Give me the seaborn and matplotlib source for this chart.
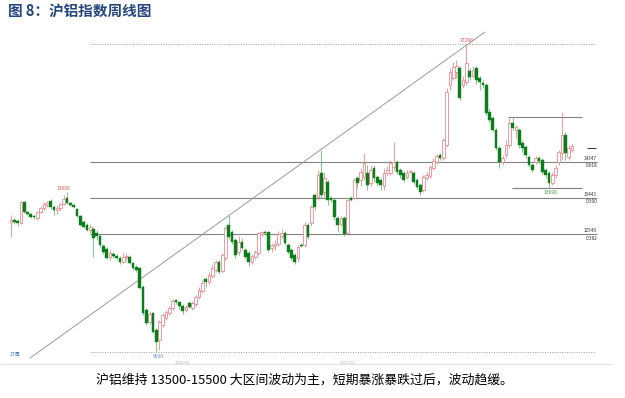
#沪铝指数周线图 - reproduccion del grafico
import pandas as pd
import matplotlib
matplotlib.use('Agg')
import matplotlib.pyplot as plt
import seaborn as sns

#datos semanales OHLC
opens = [12840, 12890, 12865, 12815, 13340, 13090, 13040, 12990, 12940, 13090,
         13190, 13265, 13365, 13215, 13140, 13190, 13290, 13440, 13315, 13265,
         13165, 12990, 12840, 12765, 12640, 12665, 12565, 12490, 12240, 12165,
         11965, 12040, 11990, 11940, 11840, 11965, 11965, 11815, 11715, 11690,
         11215, 10640, 10340, 10565, 10140, 9890, 10265, 10440, 10565, 10690,
         10890, 10840, 10740, 10640, 10815, 10690, 10790, 10965, 11115, 11415,
         11340, 11490, 11640, 11840, 11615, 11940, 12765, 12590, 12390, 12090,
         12340, 12140, 12065, 11840, 11965, 12065, 12540, 12590, 12590, 12190,
         12240, 12290, 12490, 12565, 12265, 12140, 12015, 11940, 12265, 12265,
         12765, 12815, 13515, 13465, 14065, 13590, 13840, 13440, 13390, 12940,
         12790, 12940, 12565, 13440, 13440, 13940, 13890, 13965, 14065, 13815,
         14190, 13965, 13890, 13740, 14065, 14065, 14215, 14340, 14140, 14065,
         13965, 14090, 14065, 13890, 13765, 13640, 13940, 13990, 14190, 14340,
         14515, 14440, 14765, 16265, 16440, 16590, 16690, 16265, 16340, 16615,
         16490, 16690, 16440, 16315, 16265, 15590, 15440, 15140, 14690, 14340,
         14515, 14765, 15315, 15140, 15140, 14815, 14715, 14465, 14265, 14340,
         14440, 14390, 14140, 14065, 13815, 14015, 14340, 14565, 15015, 14465,
         14640]
highs = [13015, 12940, 12915, 13365, 13365, 13115, 13065, 13015, 13115, 13240,
         13340, 13365, 13415, 13265, 13265, 13315, 13515, 13600, 13340, 13290,
         13190, 13015, 12890, 12815, 12790, 12690, 12640, 12540, 12290, 12215,
         12140, 12090, 12040, 11990, 12090, 12065, 12015, 11840, 11765, 11715,
         11265, 10690, 10615, 10590, 10190, 10390, 10565, 10640, 10740, 10915,
         10915, 10865, 10790, 10765, 10865, 10865, 11015, 11215, 11390, 11465,
         11590, 11765, 11890, 11890, 12065, 12740, 13015, 12640, 12440, 12490,
         12440, 12190, 12115, 12040, 12140, 12590, 12615, 12640, 12615, 12315,
         12390, 12615, 12665, 12615, 12315, 12190, 12065, 12265, 12315, 12840,
         12815, 13265, 13565, 14140, 14640, 14090, 13890, 13490, 13440, 12990,
         12990, 12990, 13440, 13490, 13940, 13990, 14190, 14565, 14265, 14265,
         14265, 14015, 13940, 14190, 14240, 14390, 14840, 14390, 14190, 14115,
         14140, 14140, 14115, 13940, 13815, 14015, 14090, 14265, 14440, 14540,
         14565, 14940, 16190, 16690, 16840, 16890, 16740, 16490, 17288, 16690,
         16740, 16740, 16490, 16390, 16315, 15690, 15490, 15190, 14740, 14515,
         14890, 15440, 15465, 15265, 15190, 14890, 14765, 14515, 14315, 14490,
         14490, 14440, 14190, 14115, 14090, 14265, 14640, 15590, 15090, 14765,
         14790]
lows = [12465, 12790, 12740, 12790, 13065, 13015, 12940, 12915, 12890, 13065,
        13140, 13215, 13165, 13015, 13040, 13140, 13265, 13290, 13240, 13190,
        12965, 12740, 12690, 12615, 12565, 11965, 12390, 12215, 12040, 11915,
        11890, 11940, 11890, 11790, 11815, 11890, 11790, 11640, 11590, 11165,
        10515, 10265, 10290, 10065, 9600, 9640, 10215, 10390, 10515, 10640,
        10790, 10665, 10540, 10590, 10690, 10640, 10740, 10915, 11065, 11215,
        11290, 11440, 11590, 11540, 11565, 11890, 12415, 12290, 11940, 12015,
        12140, 11915, 11740, 11790, 11915, 12015, 12490, 12515, 12090, 12090,
        12140, 12240, 12440, 12265, 12040, 11890, 11790, 11840, 12215, 12215,
        12415, 12740, 13140, 13390, 13440, 13465, 13265, 13340, 12890, 12590,
        12740, 12490, 12515, 13365, 13390, 13690, 13740, 13890, 13640, 13740,
        13840, 13740, 13640, 13640, 13990, 14015, 14140, 14040, 13940, 13840,
        13915, 14065, 13790, 13665, 13515, 13590, 13890, 13940, 14140, 14290,
        14390, 14390, 14715, 16140, 16390, 16440, 15890, 16190, 16265, 16390,
        16440, 16290, 16140, 16190, 15515, 15340, 15090, 14640, 14190, 14265,
        14440, 14690, 15140, 14940, 14690, 14590, 14440, 14215, 14090, 14290,
        14315, 14040, 13940, 13690, 13765, 13940, 14265, 14390, 14390, 14390,
        14590]
closes = [12890, 12840, 12815, 13340, 13090, 13040, 12965, 12965, 13090, 13190,
          13290, 13315, 13215, 13140, 13190, 13290, 13415, 13315, 13265, 13215,
          12990, 12765, 12715, 12640, 12715, 12440, 12490, 12265, 12090, 11940,
          12065, 11990, 11940, 11840, 11965, 11990, 11815, 11690, 11640, 11190,
          10565, 10315, 10540, 10090, 9840, 10340, 10515, 10590, 10690, 10865,
          10840, 10740, 10615, 10715, 10715, 10815, 10965, 11140, 11315, 11340,
          11515, 11690, 11840, 11590, 12015, 12690, 12465, 12340, 12015, 12340,
          12190, 11965, 11840, 11990, 12090, 12565, 12590, 12565, 12140, 12265,
          12290, 12540, 12565, 12315, 12090, 11940, 11840, 12215, 12240, 12765,
          12465, 13215, 13215, 14015, 13515, 13940, 13390, 13390, 12965, 12765,
          12940, 12540, 13390, 13390, 13890, 13815, 14090, 14315, 13765, 14140,
          13940, 13815, 13765, 14065, 14140, 14315, 14340, 14090, 14015, 13890,
          14065, 14115, 13840, 13715, 13590, 13965, 14015, 14215, 14365, 14490,
          14440, 14890, 16090, 16590, 16715, 16740, 15940, 16390, 16815, 16465,
          16640, 16390, 16340, 16265, 15565, 15390, 15140, 14690, 14340, 14440,
          14765, 15315, 15190, 15215, 14765, 14690, 14515, 14265, 14140, 14440,
          14365, 14090, 14015, 13815, 14015, 14190, 14590, 15015, 14565, 14690,
          14740]

#niveles de Fibonacci y marcas
fib_levels = [14347, 13443, 12540]
fib_ratios = ['0.618', '0.500', '0.382']
top_price = 17288
low_price = 9600
left_peak = 13600
right_low = 13690
resistance = 15465
box_support = 13690
short_mark = 14690
trend_x = [5.8, 143.6]
trend_y = [9440, 17590]
date_labels = ['2016/01', '2017/01']
date_pos = [52, 102]

titulo = '图 8：沪铝指数周线图'
comentario = '沪铝维持 13500-15500 大区间波动为主，短期暴涨暴跌过后，波动趋缓。'

df = pd.DataFrame({'open': opens, 'high': highs, 'low': lows, 'close': closes})
df['x'] = range(len(df))
df['sube'] = df['close'] >= df['open']

sns.set_theme(style='white')
plt.rcParams['font.family'] = ['Noto Sans CJK SC', 'DejaVu Sans']

fig = plt.figure(figsize=(6.25, 3.98), dpi=100)
ax = fig.add_axes([0, 0, 1, 1])
ax.set_xlim(-3.33, 186.06)
ax.set_ylim(8440, 18390)
ax.axis('off')

rojo = '#f0898f'
verde = '#0b7d1c'
verde_claro = '#6cbf6c'

#mechas y cuerpos
sub = df[df['sube']]
baj = df[~df['sube']]
ax.vlines(sub['x'], sub['low'], sub['high'], color=rojo, lw=0.6, zorder=2)
ax.vlines(baj['x'], baj['low'], baj['high'], color=verde_claro, lw=0.6, zorder=2)
ax.bar(sub['x'], sub['close'] - sub['open'], bottom=sub['open'], width=0.8,
       facecolor='white', edgecolor=rojo, linewidth=0.6, zorder=3)
ax.bar(baj['x'], baj['close'] - baj['open'], bottom=baj['open'], width=0.8,
       facecolor=verde, edgecolor=verde, linewidth=0.3, zorder=3)

#lineas horizontales
gris = '#808080'
for lvl in fib_levels:
    ax.hlines(lvl, 24, 177.6, color=gris, lw=0.8, zorder=1)
ax.hlines([top_price, low_price], 24, 177, color='#999999', lw=0.7, ls=(0, (1, 1.5)), zorder=1)
ax.hlines(9290, -3.3, 182, color='#e2e2e2', lw=0.8, zorder=1)
ax.hlines(resistance, 150.6, 173, color=gris, lw=0.8, zorder=1)
ax.hlines(box_support, 151.8, 173, color=gris, lw=0.8, zorder=1)
ax.hlines(short_mark, 174.5, 177.3, color='#444444', lw=0.8, zorder=1)
sns.lineplot(x=trend_x, y=trend_y, ax=ax, color='#999999', lw=0.7, zorder=1)

#etiquetas pequenas
ax.text(138.2, 17390, str(top_price), color='#e05050', fontsize=3.6, ha='center', va='center')
ax.text(16, 13665, str(left_peak), color='#e05050', fontsize=3.6, ha='center', va='center')
ax.text(44.5, 9465, str(low_price), color='#6a8ab0', fontsize=3.6, ha='center', va='center')
ax.text(163.5, 13590, str(right_low), color='#3a9a3a', fontsize=3.6, ha='center', va='center')
for lvl, r in zip(fib_levels, fib_ratios):
    ax.text(177.6, lvl + 75, str(lvl), color='#333333', fontsize=3.4, ha='right', va='center')
    ax.text(177.6, lvl - 100, r, color='#333333', fontsize=3.4, ha='right', va='center')
for lab, pos in zip(date_labels, date_pos):
    ax.text(pos, 9340, lab, color='#aaaaaa', fontsize=3, ha='center', va='center')
ax.text(-0.5, 9540, '1T周', color='#4a70c0', fontsize=3.6, ha='left', va='center')

fig.text(8 / 625, 1 - 12 / 398, titulo, color='#24467d', fontsize=10.5, fontweight='bold',
         ha='left', va='center')
fig.text(305 / 625, 1 - 380 / 398, comentario, color='black', fontsize=9.3,
         ha='center', va='center')

fig.savefig('out.png', dpi=100, facecolor='white')
